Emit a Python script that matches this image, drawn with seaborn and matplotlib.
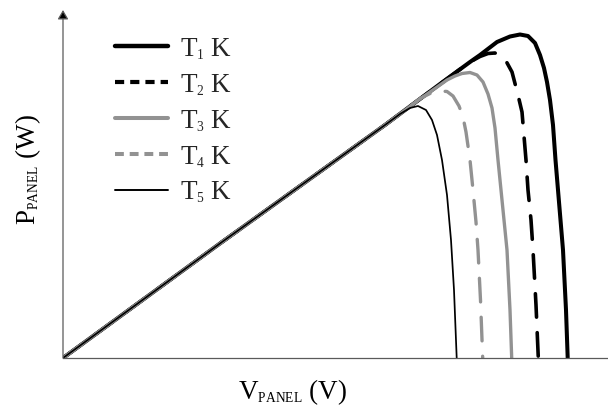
import matplotlib
matplotlib.use("Agg")
import matplotlib.pyplot as plt
import matplotlib._mathtext as _mathtext
from matplotlib.lines import Line2D
import pandas as pd
import seaborn as sns

# Smaller subscripts for the PANEL / index labels
_mathtext.SHRINK_FACTOR = 0.5

# ---- data: P-V curves of a PV panel at five temperatures ----
# shared ohmic rise from the origin
rise_v = [0.0, 7.95, 16.1]
rise_p = [0.0, 23.2, 46.6]

t1_v = [18.85, 20.35, 20.85, 21.7, 22.35, 22.85, 23.25, 23.6, 23.85, 24.05,
        24.2, 24.35, 24.5, 24.625, 24.75, 24.875, 25.0, 25.15, 25.235]
t1_p = [54.8, 59.2, 60.6, 63.2, 64.3, 64.7, 64.4, 63.0, 60.6, 58.0,
        55.2, 51.6, 46.6, 39.6, 33.6, 27.6, 21.6, 9.6, 0.0]

t2_v = [18.85, 20.35, 20.85, 21.25, 21.6, 21.9, 22.15, 22.45, 22.75, 22.95,
        23.025, 23.15, 23.25, 23.4, 23.5, 23.65, 23.765]
t2_p = [54.8, 59.2, 60.3, 60.9, 61.0, 60.4, 59.4, 57.2, 52.6, 49.2,
        45.6, 39.6, 33.6, 27.6, 21.6, 10.6, 0.0]

t3_v = [17.85, 18.6, 19.2, 19.6, 19.95, 20.35, 20.7, 21.0, 21.25, 21.45,
        21.6, 21.75, 21.9, 22.05, 22.2, 22.35, 22.435]
t3_p = [51.8, 53.9, 55.6, 56.4, 56.9, 57.1, 56.6, 55.2, 52.8, 50.0,
        46.0, 39.6, 33.6, 27.6, 21.6, 9.6, 0.0]

t4_v = [17.35, 17.85, 18.35, 18.85, 19.2, 19.5, 19.8, 20.0, 20.15, 20.35,
        20.5, 20.65, 20.75, 20.875, 20.985]
t4_p = [50.3, 51.9, 52.9, 53.4, 53.3, 52.4, 50.4, 48.2, 45.2, 39.6,
        33.6, 27.2, 21.6, 11.6, 0.0]

t5_v = [16.85, 17.35, 17.75, 18.15, 18.45, 18.7, 18.95, 19.2, 19.4, 19.55,
        19.685]
t5_p = [48.8, 50.0, 50.4, 49.6, 47.6, 44.6, 39.6, 32.6, 23.6, 13.6, 0.0]

labels = [r"T$_\mathregular{1}$ K", r"T$_\mathregular{2}$ K",
          r"T$_\mathregular{3}$ K", r"T$_\mathregular{4}$ K",
          r"T$_\mathregular{5}$ K"]
curves_v = [t1_v, t2_v, t3_v, t4_v, t5_v]
curves_p = [t1_p, t2_p, t3_p, t4_p, t5_p]

frames = []
for lab, v, p in zip(labels, curves_v, curves_p):
    frames.append(pd.DataFrame({"V": rise_v + v, "P": rise_p + p, "curve": lab}))
df = pd.concat(frames, ignore_index=True)

# ---- styling ----
sns.set_theme(style="white")
plt.rcParams["font.family"] = ["Liberation Serif", "DejaVu Serif"]
plt.rcParams["mathtext.fontset"] = "custom"
plt.rcParams["mathtext.rm"] = "Liberation Serif"
plt.rcParams["mathtext.it"] = "Liberation Serif:italic"
plt.rcParams["mathtext.bf"] = "Liberation Serif:bold"

GRAY = "#929292"
styles = [
    dict(color="black", linewidth=2.9, linestyle="-"),
    dict(color="black", linewidth=2.6, linestyle=(0, (6.5, 4.3))),
    dict(color=GRAY, linewidth=2.4, linestyle="-"),
    dict(color=GRAY, linewidth=2.4, linestyle=(0, (7.1, 4.6))),
    dict(color="black", linewidth=1.25, linestyle="-"),
]

W, H = 608, 412
fig = plt.figure(figsize=(W / 100, H / 100), dpi=100)
ax = fig.add_axes([63 / W, 54 / H, 544 / W, 348 / H])

for lab, st in zip(labels, styles):
    sns.lineplot(data=df[df["curve"] == lab], x="V", y="P", ax=ax,
                 sort=False, estimator=None, legend=False,
                 dash_capstyle="round", solid_capstyle="butt", **st)

ax.set_xlim(0, 27.2)
ax.set_ylim(0, 69.6)
ax.set_xticks([])
ax.set_yticks([])
for side in ("top", "right", "left"):
    ax.spines[side].set_visible(False)
ax.spines["bottom"].set_color("#5a5a5a")
ax.spines["bottom"].set_linewidth(0.9)

# vertical axis with arrow head
ax.annotate("", xy=(0, 1), xytext=(0, 0), xycoords="axes fraction",
            textcoords="axes fraction", annotation_clip=False,
            arrowprops=dict(arrowstyle="-|>,head_length=5.5,head_width=3.2",
                            mutation_scale=1, color="#5a5a5a", lw=0.9,
                            fc="black", ec="#5a5a5a",
                            shrinkA=0, shrinkB=0))

ax.set_xlabel(r"V$_\mathregular{PANEL}$ (V)", fontsize=19.5, color="black",
              va="center")
ax.xaxis.set_label_coords((293 - 63) / 544, (358 - 392) / 348)
ax.set_ylabel(r"P$_\mathregular{PANEL}$ (W)", fontsize=19.5, color="black",
              va="center")
ax.yaxis.set_label_coords((28 - 63) / 544, (358 - 170) / 348)

# legend handles
leg_styles = [
    dict(color="black", linewidth=3.2, linestyle="-"),
    dict(color="black", linewidth=3.0, linestyle=(0, (2.2, 1.45))),
    dict(color=GRAY, linewidth=2.9, linestyle="-"),
    dict(color=GRAY, linewidth=2.9, linestyle=(0, (2.2, 1.45))),
    dict(color="black", linewidth=1.4, linestyle="-"),
]
handles = [Line2D([0], [0], dash_capstyle="butt", **s) for s in leg_styles]
ax.legend(handles, labels, loc="upper left",
          bbox_to_anchor=(115 / W, 1 - 36 / H), bbox_transform=fig.transFigure,
          frameon=False, fontsize=19.5, handlelength=1.96, handletextpad=0.44,
          labelspacing=0.37, borderpad=0, borderaxespad=0)

fig.savefig("out.png", dpi=100)
